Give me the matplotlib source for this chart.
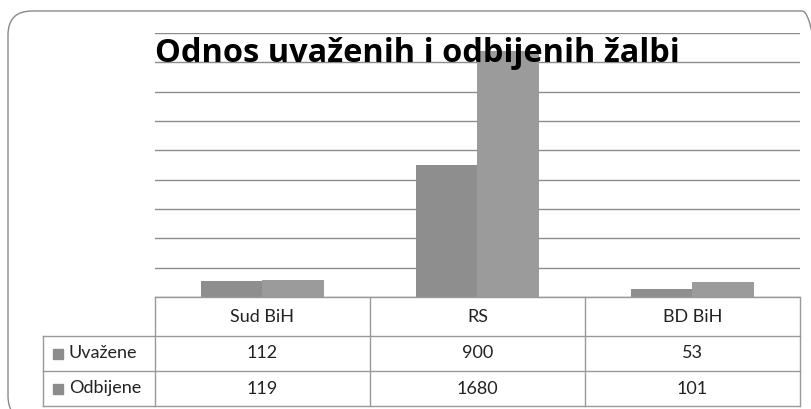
import matplotlib.pyplot as plt
import numpy as np
from matplotlib.patches import FancyBboxPatch, Rectangle
from matplotlib.lines import Line2D
from matplotlib.transforms import IdentityTransform

# Data
categories = ['Sud BiH', 'RS', 'BD BiH']
series = ['Uvažene', 'Odbijene']
uvazene = [112, 900, 53]
odbijene = [119, 1680, 101]
title = 'Odnos uvaženih i odbijenih žalbi'

colors = ['#8e8e8e', '#9b9b9b']
line_col = '#999999'
text_col = '#222222'
font = ['Lato', 'DejaVu Sans']
title_font = ['Open Sans', 'DejaVu Sans']

W, H = 812, 409
fig = plt.figure(figsize=(W / 100, H / 100), dpi=100)


def fx(px):
    return px / W


def fy(py):
    return 1 - py / H


# rounded frame around the whole chart (bottom/right run off the image)
frame = FancyBboxPatch((8, H - 420), 818, 409,
                       boxstyle='round,pad=0,rounding_size=24',
                       transform=IdentityTransform(),
                       facecolor='none', edgecolor='#8a8a8a', lw=1)
fig.add_artist(frame)

# plot area
ax = fig.add_axes([fx(155), fy(297), fx(800) - fx(155), fy(33) - fy(297)])
x = np.arange(len(categories))
bw = 0.284
ax.bar(x - bw / 2, uvazene, bw, color=colors[0], zorder=2)
ax.bar(x + bw / 2, odbijene, bw, color=colors[1], zorder=2)
ax.set_xlim(-0.5, len(categories) - 0.5)
ax.set_ylim(0, 1800)
ax.set_yticks(np.arange(0, 1801, 200))
ax.yaxis.grid(True, color='#8c8c8c', lw=1)
ax.set_axisbelow(True)
ax.tick_params(left=False, bottom=False, labelleft=False, labelbottom=False)
for s in ax.spines.values():
    s.set_visible(False)

fig.text(fx(155), fy(62.5), title, fontsize=23.4, fontweight='bold',
         family=title_font, va='baseline', ha='left', color='black', zorder=5)

# data table under the axes
col_x = [155, 370, 585, 800]
row_y = [297, 336, 371, 406]


def hline(x0, x1, y):
    fig.add_artist(Line2D([fx(x0), fx(x1)], [fy(y), fy(y)],
                          transform=fig.transFigure, color=line_col, lw=1))


def vline(x, y0, y1):
    fig.add_artist(Line2D([fx(x), fx(x)], [fy(y0), fy(y1)],
                          transform=fig.transFigure, color=line_col, lw=1))


hline(155, 800, row_y[0])
for y in row_y[1:]:
    hline(43, 800, y)
vline(43, row_y[1], row_y[3])
for cx in col_x:
    vline(cx, row_y[0], row_y[3])

for i, cat in enumerate(categories):
    cx = (col_x[i] + col_x[i + 1]) / 2
    fig.text(fx(cx), fy((row_y[0] + row_y[1]) / 2), cat, fontsize=13,
             family=font, ha='center', va='center', color=text_col)
    for r, vals in enumerate([uvazene, odbijene]):
        cy = (row_y[r + 1] + row_y[r + 2]) / 2
        fig.text(fx(cx), fy(cy), str(vals[i]), fontsize=13,
                 family=font, ha='center', va='center', color=text_col)

for r, name in enumerate(series):
    cy = (row_y[r + 1] + row_y[r + 2]) / 2
    fig.add_artist(Rectangle((fx(53), fy(cy + 5)), 10 / W, 10 / H,
                             transform=fig.transFigure, color='#8c8c8c'))
    fig.text(fx(69), fy(cy), name, fontsize=13, family=font,
             ha='left', va='center', color=text_col)

fig.savefig('out.png', dpi=100)
